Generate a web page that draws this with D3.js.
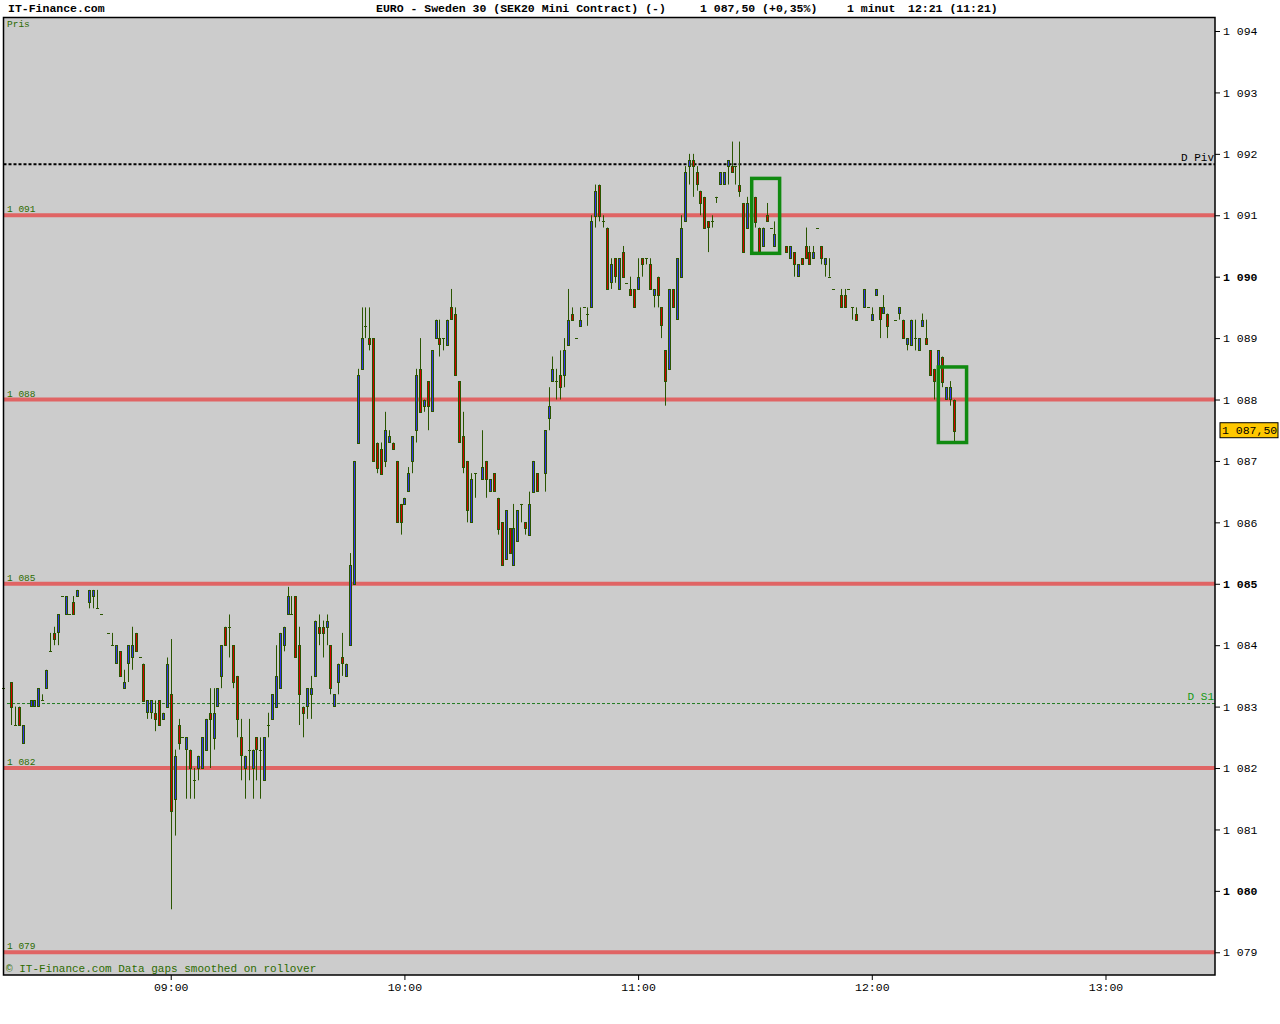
<!DOCTYPE html>
<html>
<head>
<meta charset="utf-8">
<script src="https://cdn.jsdelivr.net/npm/d3@7"></script>
<style>
  body { margin: 0; background: #fff; }
  svg text { font-family: "Liberation Mono", "DejaVu Sans Mono", monospace; }
</style>
</head>
<body>
<div id="chart"></div>
<script>
// one-minute bars: time, open, high, low, close
const bars = [
  ["08:17",1083.3,1083.3,1083.3,1083.3], ["08:19",1083.4,1083.4,1082.7,1083.0],
  ["08:20",1082.7,1083.0,1082.7,1082.7], ["08:21",1083.0,1083.0,1082.7,1082.7],
  ["08:22",1082.4,1082.7,1082.4,1082.7], ["08:24",1083.0,1083.1,1083.0,1083.1],
  ["08:25",1083.0,1083.1,1083.0,1083.1], ["08:26",1083.0,1083.3,1083.0,1083.3],
  ["08:27",1083.1,1083.2,1083.1,1083.1], ["08:28",1083.3,1083.6,1083.3,1083.6],
  ["08:29",1083.9,1084.2,1083.9,1083.9], ["08:30",1084.2,1084.3,1084.0,1084.1],
  ["08:31",1084.2,1084.5,1084.0,1084.5], ["08:32",1084.8,1084.8,1084.8,1084.8],
  ["08:33",1084.5,1084.8,1084.5,1084.8], ["08:34",1084.5,1084.5,1084.5,1084.5],
  ["08:35",1084.7,1084.8,1084.5,1084.5], ["08:36",1084.8,1084.9,1084.8,1084.9],
  ["08:39",1084.7,1084.9,1084.6,1084.9], ["08:40",1084.8,1084.9,1084.6,1084.9],
  ["08:41",1084.6,1084.9,1084.6,1084.6], ["08:42",1084.5,1084.5,1084.5,1084.5],
  ["08:44",1084.2,1084.2,1084.2,1084.2], ["08:45",1084.0,1084.2,1084.0,1084.0],
  ["08:46",1083.7,1084.0,1083.7,1084.0], ["08:47",1083.9,1083.9,1083.5,1083.5],
  ["08:48",1083.3,1083.6,1083.3,1083.4], ["08:49",1083.7,1084.0,1083.4,1084.0],
  ["08:50",1083.8,1084.3,1083.6,1084.0], ["08:51",1084.2,1084.2,1083.9,1083.9],
  ["08:52",1083.8,1083.8,1083.8,1083.8], ["08:53",1083.7,1083.7,1083.1,1083.1],
  ["08:54",1082.9,1083.1,1082.8,1083.1], ["08:55",1082.9,1083.1,1082.8,1083.1],
  ["08:56",1082.9,1083.1,1082.6,1082.8], ["08:57",1083.1,1083.1,1082.7,1082.7],
  ["08:58",1082.8,1082.9,1082.8,1082.9], ["08:59",1083.0,1083.8,1083.0,1083.7],
  ["09:00",1083.2,1084.1,1079.7,1081.3], ["09:01",1081.5,1082.3,1080.9,1082.2],
  ["09:02",1082.7,1082.8,1082.3,1082.4], ["09:03",1082.5,1082.5,1082.5,1082.5],
  ["09:04",1082.3,1082.5,1081.5,1082.5], ["09:05",1082.3,1082.3,1081.5,1082.0],
  ["09:06",1081.8,1082.0,1081.5,1081.8], ["09:07",1082.0,1082.2,1081.8,1082.2],
  ["09:08",1082.0,1082.5,1082.0,1082.5], ["09:09",1082.3,1082.8,1082.3,1082.8],
  ["09:10",1082.9,1083.3,1082.0,1082.8], ["09:11",1082.5,1083.3,1082.3,1082.9],
  ["09:12",1083.0,1083.3,1083.0,1083.3], ["09:13",1083.5,1084.0,1083.3,1084.0],
  ["09:14",1084.3,1084.3,1084.0,1084.0], ["09:15",1084.3,1084.5,1083.8,1084.3],
  ["09:16",1084.0,1084.0,1083.3,1083.4], ["09:17",1083.5,1083.5,1082.5,1082.8],
  ["09:18",1082.5,1082.8,1081.8,1082.2], ["09:19",1082.0,1082.2,1081.5,1082.2],
  ["09:20",1082.3,1082.8,1081.8,1082.3], ["09:21",1082.0,1082.3,1081.5,1082.3],
  ["09:22",1082.5,1082.5,1081.8,1082.3], ["09:23",1082.3,1082.5,1081.5,1082.3],
  ["09:24",1081.8,1082.5,1081.8,1082.5], ["09:25",1082.7,1082.9,1082.5,1082.7],
  ["09:26",1082.8,1083.2,1082.8,1083.2], ["09:27",1083.0,1084.0,1083.0,1083.5],
  ["09:28",1083.3,1084.2,1083.3,1084.2], ["09:29",1084.0,1084.3,1083.9,1084.3],
  ["09:30",1084.5,1084.95,1084.5,1084.8], ["09:31",1084.5,1084.8,1084.5,1084.5],
  ["09:32",1084.8,1084.8,1083.8,1083.8], ["09:33",1084.0,1084.3,1082.7,1083.2],
  ["09:34",1083.0,1083.0,1082.5,1082.9], ["09:35",1083.0,1083.3,1082.8,1083.3],
  ["09:36",1083.2,1083.5,1082.8,1083.3], ["09:37",1083.5,1084.4,1083.5,1084.4],
  ["09:38",1084.3,1084.5,1084.0,1084.2], ["09:39",1084.3,1084.4,1083.8,1084.2],
  ["09:40",1084.3,1084.5,1084.0,1084.4], ["09:41",1084.0,1084.0,1083.2,1083.3],
  ["09:42",1083.0,1083.2,1083.0,1083.2], ["09:43",1083.4,1083.7,1083.2,1083.7],
  ["09:44",1083.8,1084.2,1083.5,1083.7], ["09:45",1083.5,1083.7,1083.5,1083.7],
  ["09:46",1084.0,1085.5,1084.0,1085.3], ["09:47",1085.0,1087.0,1085.0,1087.0],
  ["09:48",1087.3,1088.5,1087.3,1088.4], ["09:49",1088.5,1089.5,1088.5,1089.0],
  ["09:50",1089.2,1089.5,1089.0,1089.2], ["09:51",1089.0,1089.5,1088.8,1088.9],
  ["09:52",1089.0,1089.0,1087.0,1087.0], ["09:53",1087.3,1087.3,1086.8,1086.9],
  ["09:54",1087.2,1087.3,1086.8,1086.8], ["09:55",1087.0,1087.8,1086.9,1087.5],
  ["09:56",1087.3,1087.5,1087.3,1087.4], ["09:57",1087.3,1087.3,1087.2,1087.2],
  ["09:58",1087.0,1087.0,1086.0,1086.0], ["09:59",1086.3,1086.3,1085.8,1086.0],
  ["10:00",1086.3,1086.4,1086.3,1086.4], ["10:01",1086.5,1086.9,1086.5,1086.8],
  ["10:02",1087.0,1087.4,1086.8,1087.4], ["10:03",1087.5,1088.5,1087.3,1088.4],
  ["10:04",1088.5,1089.0,1087.8,1087.8], ["10:05",1087.9,1088.0,1087.8,1088.0],
  ["10:06",1088.3,1088.3,1087.5,1087.9], ["10:07",1087.8,1088.8,1087.8,1088.8],
  ["10:08",1089.0,1089.3,1089.0,1089.3], ["10:09",1089.0,1089.3,1088.7,1088.9],
  ["10:10",1089.0,1089.0,1088.8,1089.0], ["10:11",1088.9,1089.3,1088.9,1089.3],
  ["10:12",1089.5,1089.8,1089.3,1089.3], ["10:13",1089.4,1089.5,1088.4,1088.4],
  ["10:14",1088.3,1088.3,1087.3,1087.3], ["10:15",1087.4,1087.8,1086.8,1086.9],
  ["10:16",1087.0,1087.0,1086.0,1086.2], ["10:17",1086.0,1086.8,1086.0,1086.7],
  ["10:18",1086.8,1086.8,1086.4,1086.8], ["10:20",1086.7,1087.5,1086.7,1086.9],
  ["10:21",1087.0,1087.0,1086.4,1086.7], ["10:22",1086.5,1086.7,1086.5,1086.7],
  ["10:23",1086.8,1086.8,1086.5,1086.5], ["10:24",1086.4,1086.4,1085.8,1085.9],
  ["10:25",1086.0,1086.0,1085.3,1085.3], ["10:26",1085.4,1086.2,1085.4,1086.2],
  ["10:27",1085.9,1085.9,1085.5,1085.5], ["10:28",1085.3,1086.3,1085.3,1085.9],
  ["10:29",1085.7,1086.2,1085.7,1086.2], ["10:30",1086.3,1086.3,1086.0,1086.3],
  ["10:31",1086.0,1086.0,1085.8,1085.9], ["10:32",1085.8,1086.5,1085.8,1086.3],
  ["10:33",1086.5,1087.0,1086.5,1087.0], ["10:34",1086.8,1086.8,1086.5,1086.5],
  ["10:36",1086.8,1087.5,1086.5,1087.5], ["10:37",1087.7,1088.2,1087.5,1087.9],
  ["10:38",1088.3,1088.7,1088.3,1088.5], ["10:39",1088.3,1088.5,1088.0,1088.3],
  ["10:40",1088.4,1088.8,1088.0,1088.2], ["10:41",1088.4,1089.0,1088.2,1088.8],
  ["10:42",1088.9,1089.8,1088.9,1089.3], ["10:43",1089.4,1089.5,1089.3,1089.3],
  ["10:44",1089.0,1089.0,1089.0,1089.0], ["10:45",1089.2,1089.5,1089.2,1089.3],
  ["10:46",1089.5,1089.5,1089.5,1089.5], ["10:47",1089.4,1089.5,1089.2,1089.4],
  ["10:48",1089.5,1091.0,1089.5,1090.9], ["10:49",1091.0,1091.5,1090.8,1091.4],
  ["10:50",1091.5,1091.5,1090.9,1091.0], ["10:51",1090.9,1091.0,1090.8,1090.9],
  ["10:52",1090.8,1090.8,1089.8,1089.8], ["10:53",1089.9,1090.3,1089.8,1090.2],
  ["10:54",1090.3,1090.3,1089.9,1090.0], ["10:55",1089.8,1090.3,1089.8,1090.3],
  ["10:56",1090.4,1090.5,1090.0,1090.0], ["10:57",1089.9,1089.9,1089.9,1089.9],
  ["10:58",1089.8,1090.0,1089.7,1089.7], ["10:59",1089.8,1089.8,1089.5,1089.5],
  ["11:00",1089.8,1090.3,1089.8,1090.0], ["11:01",1090.3,1090.3,1090.0,1090.2],
  ["11:02",1090.3,1090.3,1090.2,1090.3], ["11:03",1090.2,1090.3,1089.8,1089.8],
  ["11:04",1089.7,1089.8,1089.5,1089.8], ["11:05",1090.0,1090.0,1089.5,1089.7],
  ["11:06",1089.5,1089.5,1089.0,1089.2], ["11:07",1088.8,1088.8,1087.9,1088.3],
  ["11:08",1088.5,1089.8,1088.5,1089.8], ["11:09",1089.8,1089.8,1089.5,1089.5],
  ["11:10",1089.3,1090.3,1089.3,1090.3], ["11:11",1090.0,1091.0,1090.0,1090.8],
  ["11:12",1090.9,1091.8,1090.9,1091.7], ["11:13",1091.8,1092.0,1091.5,1091.9],
  ["11:14",1091.9,1092.0,1091.3,1091.8], ["11:15",1091.7,1091.8,1091.4,1091.5],
  ["11:16",1091.4,1091.4,1091.0,1091.2], ["11:17",1091.3,1091.3,1090.8,1090.8],
  ["11:18",1090.9,1090.9,1090.4,1090.8], ["11:19",1090.9,1091.0,1090.8,1090.9],
  ["11:20",1091.3,1091.3,1091.2,1091.3], ["11:21",1091.5,1091.7,1091.5,1091.7],
  ["11:22",1091.5,1091.7,1091.5,1091.7], ["11:23",1091.8,1091.9,1091.5,1091.9],
  ["11:24",1091.8,1092.2,1091.7,1091.7], ["11:25",1091.8,1091.8,1091.5,1091.8],
  ["11:26",1091.5,1092.2,1091.3,1091.4], ["11:27",1091.2,1091.2,1090.4,1090.4],
  ["11:28",1090.8,1091.3,1090.8,1091.2], ["11:30",1091.3,1091.3,1090.8,1090.9],
  ["11:31",1090.8,1090.8,1090.4,1090.4], ["11:32",1090.5,1090.8,1090.5,1090.8],
  ["11:33",1091.0,1091.2,1090.9,1090.9], ["11:34",1090.8,1090.8,1090.8,1090.8],
  ["11:35",1090.5,1090.9,1090.5,1090.7], ["11:38",1090.5,1090.5,1090.4,1090.4],
  ["11:39",1090.3,1090.5,1090.3,1090.5], ["11:40",1090.4,1090.4,1090.0,1090.2],
  ["11:41",1090.0,1090.2,1090.0,1090.2], ["11:42",1090.3,1090.3,1090.2,1090.2],
  ["11:43",1090.5,1090.8,1090.3,1090.3], ["11:44",1090.4,1090.5,1090.2,1090.2],
  ["11:45",1090.3,1090.5,1090.3,1090.4], ["11:46",1090.8,1090.8,1090.8,1090.8],
  ["11:47",1090.5,1090.5,1090.2,1090.3], ["11:48",1090.2,1090.3,1090.0,1090.3],
  ["11:49",1090.0,1090.3,1090.0,1090.0], ["11:50",1089.8,1089.8,1089.8,1089.8],
  ["11:52",1089.7,1089.8,1089.5,1089.5], ["11:53",1089.7,1089.8,1089.5,1089.5],
  ["11:54",1089.8,1089.8,1089.8,1089.8], ["11:55",1089.5,1089.5,1089.3,1089.5],
  ["11:56",1089.4,1089.5,1089.3,1089.3], ["11:58",1089.5,1089.8,1089.5,1089.8],
  ["11:59",1089.5,1089.5,1089.5,1089.5], ["12:00",1089.3,1089.5,1089.3,1089.4],
  ["12:01",1089.7,1089.8,1089.7,1089.8], ["12:02",1089.5,1089.5,1089.0,1089.3],
  ["12:03",1089.4,1089.7,1089.4,1089.5], ["12:04",1089.4,1089.4,1089.0,1089.2],
  ["12:06",1089.3,1089.3,1089.3,1089.3], ["12:07",1089.4,1089.5,1089.3,1089.5],
  ["12:08",1089.3,1089.3,1089.0,1089.0], ["12:09",1088.9,1089.0,1088.8,1089.0],
  ["12:10",1088.9,1089.3,1088.9,1089.3], ["12:11",1089.0,1089.3,1088.8,1089.0],
  ["12:12",1088.8,1089.0,1088.8,1089.0], ["12:13",1089.2,1089.4,1089.2,1089.3],
  ["12:14",1089.0,1089.3,1088.9,1088.9], ["12:15",1088.8,1088.8,1088.4,1088.4],
  ["12:16",1088.5,1088.5,1088.0,1088.3], ["12:17",1088.5,1088.8,1088.5,1088.8],
  ["12:18",1088.7,1088.7,1088.2,1088.3], ["12:19",1088.0,1088.2,1088.0,1088.2],
  ["12:20",1088.0,1088.3,1087.9,1088.2], ["12:21",1088.0,1088.0,1087.3,1087.5]
];

const levelLines = [1091, 1088, 1085, 1082, 1079];
const pivotLevel = 1091.83;
const s1Level = 1083.05;
const priceTicks = d3.range(1079, 1095);
const boldTicks = [1080, 1085, 1090];
const timeTicks = ["09:00", "10:00", "11:00", "12:00", "13:00"];
const lastPrice = 1087.5;
const markBoxes = [
  {from: "11:29:10", to: "11:36:20", top: 1091.6, bottom: 1090.38},
  {from: "12:17:05", to: "12:24:20", top: 1088.53, bottom: 1087.3}
];

const width = 1280, height = 1024;
const plotLeft = 3.5, plotRight = 1215, plotTop = 17.5, plotBottom = 975;

const svg = d3.select("#chart").append("svg")
  .attr("width", width).attr("height", height);

svg.append("rect").attr("width", width).attr("height", height).attr("fill", "#fff");

const parseTime = d3.timeParse("%H:%M:%S");
const t = s => parseTime(s.length === 5 ? s + ":00" : s);

const x = d3.scaleTime().domain([t("08:17:04"), t("13:28:07")]).range([plotLeft, plotRight]);
const y = d3.scaleLinear().domain([1078.63, 1094.22]).range([plotBottom, plotTop]);

const fmtPrice = v => {
  const s = d3.format(".0f")(v);
  return s.slice(0, s.length - 3) + " " + s.slice(-3);
};

// plot background
svg.append("rect")
  .attr("x", plotLeft).attr("y", plotTop)
  .attr("width", plotRight - plotLeft).attr("height", plotBottom - plotTop)
  .attr("fill", "#cccccc");

const green = "#2d6b00";

// support / resistance lines
svg.selectAll(".level").data(levelLines).join("line")
  .attr("class", "level")
  .attr("x1", plotLeft).attr("x2", plotRight)
  .attr("y1", d => y(d)).attr("y2", d => y(d))
  .attr("stroke", "#e06464").attr("stroke-width", 4);

svg.selectAll(".level-label").data(levelLines).join("text")
  .attr("class", "level-label")
  .attr("x", 7).attr("y", d => y(d) - 3)
  .attr("font-size", 9.5).attr("fill", green)
  .text(fmtPrice);

// daily pivot + S1
svg.append("line")
  .attr("x1", plotLeft).attr("x2", plotRight)
  .attr("y1", y(pivotLevel)).attr("y2", y(pivotLevel))
  .attr("stroke", "#000").attr("stroke-width", 2).attr("stroke-dasharray", "3,2");
svg.append("text")
  .attr("x", 1214).attr("y", y(pivotLevel) - 3)
  .attr("text-anchor", "end").attr("font-size", 11).attr("fill", "#000")
  .text("D Piv");

svg.append("line")
  .attr("x1", 7).attr("x2", plotRight)
  .attr("y1", y(s1Level)).attr("y2", y(s1Level))
  .attr("stroke", "#1f7a1f").attr("stroke-width", 1).attr("stroke-dasharray", "3,2");
svg.append("text")
  .attr("x", 1214).attr("y", y(s1Level) - 4)
  .attr("text-anchor", "end").attr("font-size", 11).attr("fill", "#119911")
  .text("D S1");

// candles: 1px fill column framed by a 1px green outline on each side
const outline = "#2a5500";
const candles = bars.map(([time, o, h, l, c]) => ({time: t(time), o, h, l, c}));
const px = d => Math.round(x(d.time));

const g = svg.append("g");
g.selectAll(".wick").data(candles).join("line")
  .attr("class", "wick")
  .attr("x1", d => px(d) + 0.5).attr("x2", d => px(d) + 0.5)
  .attr("y1", d => y(d.h)).attr("y2", d => y(d.l))
  .attr("stroke", outline).attr("stroke-width", 1);

g.selectAll(".body").data(candles.filter(d => d.o !== d.c)).join("rect")
  .attr("class", "body")
  .attr("x", d => px(d) - 0.5)
  .attr("y", d => Math.round(y(Math.max(d.o, d.c))) + 0.5)
  .attr("width", 2)
  .attr("height", d => Math.max(1, Math.round(Math.abs(y(d.o) - y(d.c)))))
  .attr("fill", d => d.c > d.o ? "#3232e6" : "#d00000")
  .attr("stroke", outline).attr("stroke-width", 1);

g.selectAll(".flat").data(candles.filter(d => d.o === d.c)).join("line")
  .attr("class", "flat")
  .attr("x1", d => px(d) - 1).attr("x2", d => px(d) + 2)
  .attr("y1", d => Math.round(y(d.c)) + 0.5).attr("y2", d => Math.round(y(d.c)) + 0.5)
  .attr("stroke", outline).attr("stroke-width", 1);

// highlight boxes
svg.selectAll(".mark").data(markBoxes).join("rect")
  .attr("class", "mark")
  .attr("x", d => x(t(d.from))).attr("y", d => y(d.top))
  .attr("width", d => x(t(d.to)) - x(t(d.from)))
  .attr("height", d => y(d.bottom) - y(d.top))
  .attr("fill", "none").attr("stroke", "#108a10").attr("stroke-width", 3.5);

// corner texts
svg.append("text").attr("x", 7).attr("y", 27)
  .attr("font-size", 9.5).attr("fill", green).text("Pris");
svg.append("text").attr("x", 6).attr("y", 972)
  .attr("font-size", 11).attr("fill", green)
  .text("\u00a9 IT-Finance.com Data gaps smoothed on rollover");

// frame
svg.append("rect")
  .attr("x", plotLeft).attr("y", plotTop)
  .attr("width", plotRight - plotLeft).attr("height", plotBottom - plotTop)
  .attr("fill", "none").attr("stroke", "#000").attr("stroke-width", 1.5);

// right price axis
const yAxis = svg.append("g")
  .attr("transform", `translate(${plotRight},0)`)
  .call(d3.axisRight(y).tickValues(priceTicks).tickSize(5).tickPadding(3).tickFormat(fmtPrice));
yAxis.attr("font-family", null);
yAxis.select(".domain").remove();
yAxis.selectAll("line").attr("stroke", "#000");
yAxis.selectAll("text")
  .attr("font-size", 11.5).attr("fill", "#000")
  .attr("font-weight", d => boldTicks.includes(d) ? "bold" : "normal");

// bottom time axis
const xAxis = svg.append("g")
  .attr("transform", `translate(0,${plotBottom})`)
  .call(d3.axisBottom(x).tickValues(timeTicks.map(t)).tickSize(5).tickPadding(3)
    .tickFormat(d3.timeFormat("%H:%M")));
xAxis.attr("font-family", null);
xAxis.select(".domain").remove();
xAxis.selectAll("line").attr("stroke", "#000");
xAxis.selectAll("text").attr("font-size", 11.5).attr("fill", "#000");

// last price tag
svg.append("rect")
  .attr("x", 1220).attr("y", y(lastPrice) - 7.5)
  .attr("width", 58).attr("height", 15)
  .attr("fill", "#ffc800").attr("stroke", "#000").attr("stroke-width", 1);
svg.append("text")
  .attr("x", 1222).attr("y", y(lastPrice) + 4)
  .attr("font-size", 11.5).attr("fill", "#000")
  .text(fmtPrice(Math.floor(lastPrice)) + "," + d3.format(".2f")(lastPrice).split(".")[1]);

// header
const header = [
  {x: 8, text: "IT-Finance.com"},
  {x: 376, text: "EURO - Sweden 30 (SEK20 Mini Contract) (-)"},
  {x: 700, text: "1 087,50 (+0,35%)"},
  {x: 847, text: "1 minut"},
  {x: 908, text: "12:21 (11:21)"}
];
svg.selectAll(".head").data(header).join("text")
  .attr("class", "head")
  .attr("x", d => d.x).attr("y", 12)
  .attr("font-size", 11.5).attr("font-weight", "bold").attr("fill", "#000")
  .style("white-space", "pre")
  .text(d => d.text);
</script>
</body>
</html>
